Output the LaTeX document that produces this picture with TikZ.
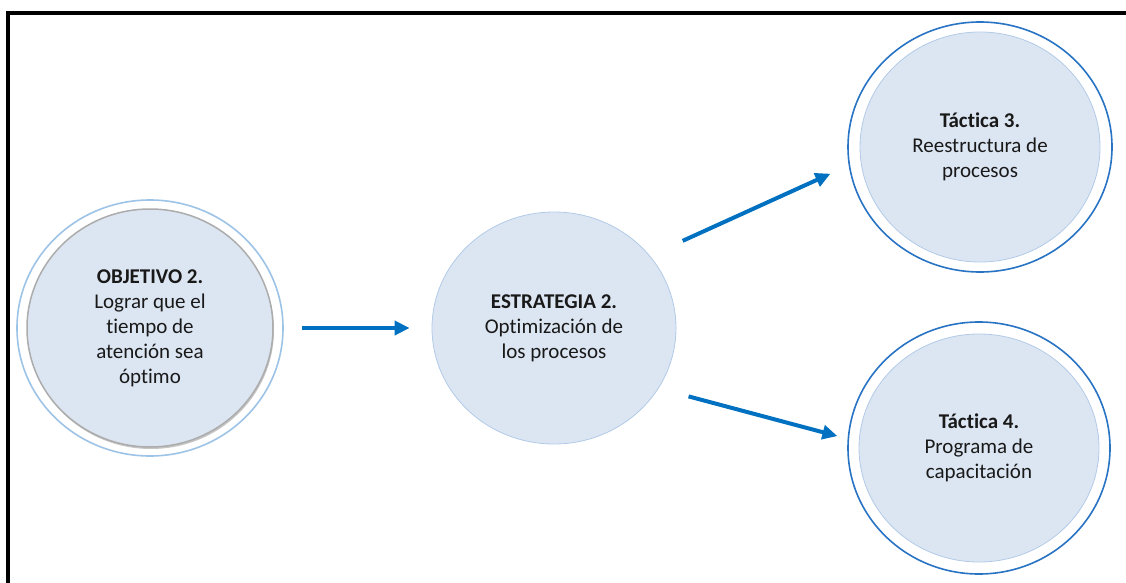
\documentclass[tikz,border=0pt]{standalone}
\usepackage{fontspec}
\setmainfont{Carlito}[Ligatures={NoCommon,NoRare,NoDiscretionary}]
\usetikzlibrary{shapes.geometric,arrows.meta,shadows}
\definecolor{fillblue}{RGB}{220,230,242}
\definecolor{edgeblue}{RGB}{178,202,232}
\definecolor{ringblue}{RGB}{40,115,195}
\definecolor{paleblue}{RGB}{157,195,230}
\definecolor{arrowblue}{RGB}{0,112,192}
\tikzstyle{bubble}=[ellipse, fill=fillblue, draw=edgeblue, line width=0.8pt, inner sep=0pt, align=center, text=black!90, font=\fontsize{21}{25}\selectfont]
\tikzstyle{ring}=[ellipse, draw=ringblue, line width=1.6pt, inner sep=0pt]
\tikzstyle{link}=[-{Triangle[length=15pt,width=14pt]}, line width=4pt, draw=arrowblue]
\newcommand{\bubble}{\node[bubble]}

\begin{document}
\begin{tikzpicture}[x=1pt,y=-1pt]
            \useasboundingbox (0,0) rectangle (1126,583);
            \draw[line width=4pt] (8,583) -- (8,13) -- (1126,13);
            \node[ring, draw=paleblue, minimum width=266pt, minimum height=256pt] (objr) at (150,328){};
            \bubble[draw=gray!65, line width=1.5pt, drop shadow={shadow xshift=1pt, shadow yshift=-2pt, opacity=0.45, fill=gray}, minimum width=246pt, minimum height=238pt] (obj) at (150,328){\textbf{OBJETIVO 2.}\\Lograr que el\\tiempo de\\atención sea\\óptimo};
            \bubble[minimum width=244pt, minimum height=232pt] (est) at (554,328){\textbf{ESTRATEGIA 2.}\\Optimización de\\los procesos};
            \node[ring, minimum width=264pt, minimum height=250pt] (t3r) at (980,147){};
            \bubble[minimum width=240pt, minimum height=230pt] (t3) at (980,147){\textbf{Táctica 3.}\\Reestructura de\\procesos};
            \node[ring, minimum width=262pt, minimum height=252pt] (t4r) at (979,448){};
            \bubble[minimum width=240pt, minimum height=228pt] (t4) at (979,448){\textbf{Táctica 4.}\\Programa de\\capacitación};
            \draw[link, shorten <=18pt, shorten >=22pt] (objr.0) -- (est.180);
            \draw[link, shorten <=36pt, shorten >=20pt] (est.37.7) -- (t3r.188.2);
            \draw[link, shorten <=31pt, shorten >=10.5pt] (est.330.9) -- (t4r.176.4);
\end{tikzpicture}
\end{document}
